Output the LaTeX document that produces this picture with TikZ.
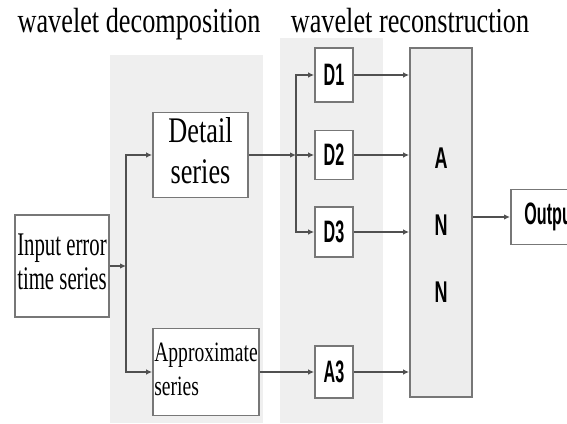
\documentclass[tikz,border=0pt]{standalone}
\usepackage{graphicx}
\usepackage{fontspec}
\setmainfont{Liberation Serif}
\newfontfamily\narrowsans{Liberation Sans}
\usetikzlibrary{arrows.meta}
\definecolor{panel}{HTML}{EFEFEF}
\definecolor{boxline}{HTML}{777777}
\definecolor{wirec}{HTML}{505050}
\definecolor{annfill}{HTML}{EDEDED}
\newcommand{\sqz}[2]{\scalebox{#1}[1]{#2}}
\newcommand{\dlab}[1]{\sqz{0.52}{\narrowsans\bfseries\fontsize{31}{31}\selectfont #1}}
\begin{document}
\begin{tikzpicture}[x=1pt,y=-1pt,
  box/.style={draw=boxline, line width=1.7pt, fill=white, inner sep=0pt},
  dbox/.style={box, minimum width=38pt},
  wire/.style={draw=wirec, line width=1.4pt},
  arr/.style={wire, -{Latex[length=6pt,width=5.5pt]}},
  titlefont/.style={font=\fontsize{35}{35}\selectfont},
]
\useasboundingbox (0,0) rectangle (567,423);
\clip (0,0) rectangle (567,423);
\fill[white] (0,0) rectangle (567,423);
\fill[panel] (110,55) rectangle (263,423);
\fill[panel] (280,38) rectangle (383,423);

\node[anchor=base, titlefont] (t1) at (139,32) {\sqz{0.75}{wavelet decomposition}};
\node[anchor=base, titlefont] (t2) at (410,32) {\sqz{0.75}{wavelet reconstruction}};

\node[box, minimum width=94pt, minimum height=102pt] (inp) at (62,266)
  {\sqz{0.63}{\fontsize{33}{34}\selectfont\begin{tabular}{@{}l@{}}Input error\\time series\end{tabular}}};
\node[box, minimum width=95pt, minimum height=85pt] (det) at (200.5,155)
  {\sqz{0.73}{\fontsize{36}{41}\selectfont\begin{tabular}{@{}c@{}}Detail\\series\end{tabular}}};
\node[box, minimum width=106pt, minimum height=87pt] (app) at (206,372)
  {\sqz{0.70}{\fontsize{28}{34}\selectfont\begin{tabular}{@{}l@{}}Approximate\\series\end{tabular}}};

\node[dbox, minimum height=54pt] (d1) at (334,75) {\dlab{D1}};
\node[dbox, minimum height=49pt] (d2) at (334,155) {\dlab{D2}};
\node[dbox, minimum height=50pt] (d3) at (334,232) {\dlab{D3}};
\node[dbox, minimum height=52pt] (a3) at (334,372) {\dlab{A3}};

\node[box, fill=annfill, minimum width=62pt, minimum height=349pt] (ann) at (441,222.5)
  {\raisebox{8pt}{\sqz{0.6}{\narrowsans\bfseries\fontsize{30}{67}\selectfont\begin{tabular}{@{}c@{}}A\\N\\N\end{tabular}}}};

\node[box, minimum width=80pt, minimum height=55pt, anchor=west] (out) at (510,217)
  {\dlab{Output}};

\coordinate (j1) at (126,266);
\coordinate (j2) at (296,155);

\draw[arr] (inp.east) -- (j1);
\draw[arr] (j1) |- (det.west);
\draw[arr] (j1) |- (app.west);
\draw[arr] (det.east) -- (j2);
\draw[arr] (j2) |- (d1.west);
\draw[arr] (j2) -- (d2.west);
\draw[arr] (j2) |- (d3.west);
\draw[arr] (app.east) -- (a3.west);
\draw[arr] (d1.east) -- (d1.east -| ann.west);
\draw[arr] (d2.east) -- (d2.east -| ann.west);
\draw[arr] (d3.east) -- (d3.east -| ann.west);
\draw[arr] (a3.east) -- (a3.east -| ann.west);
\draw[arr] (ann.east |- out.west) -- (out.west);
\end{tikzpicture}
\end{document}
